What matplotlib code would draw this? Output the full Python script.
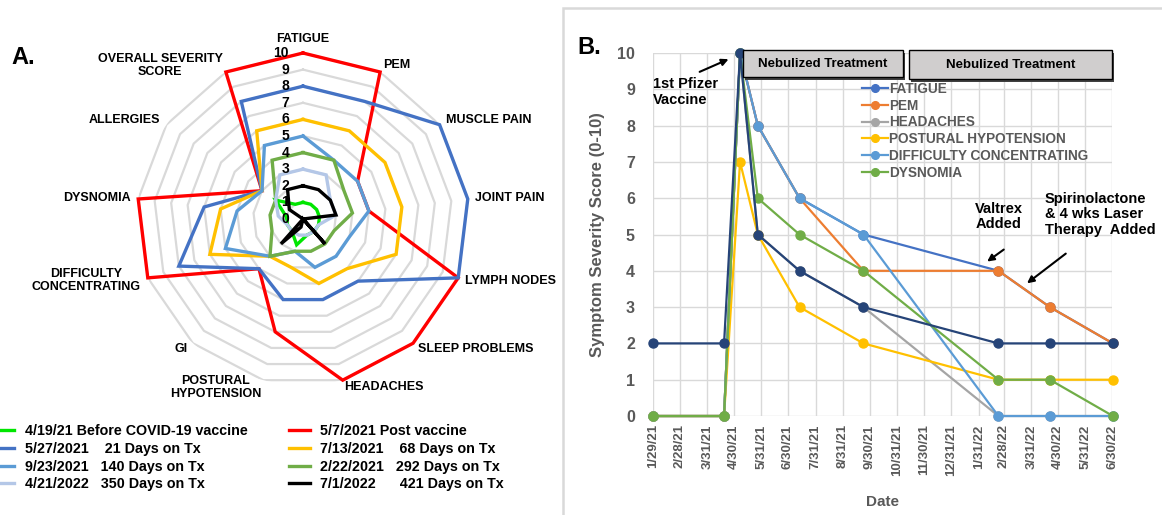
import numpy as np
import pandas as pd
import matplotlib
matplotlib.use('Agg')
import matplotlib.pyplot as plt
from matplotlib.patches import Rectangle

plt.rcParams['font.family'] = ['Liberation Sans', 'DejaVu Sans']
plt.rcParams['font.weight'] = 'bold'
plt.rcParams['axes.labelweight'] = 'bold'

# ---------------- panel A : radar data ----------------
categories = ['FATIGUE', 'PEM', 'MUSCLE PAIN', 'JOINT PAIN', 'LYMPH NODES',
              'SLEEP PROBLEMS', 'HEADACHES', 'POSTURAL\nHYPOTENSION', 'GI',
              'DIFFICULTY\nCONCENTRATING', 'DYSNOMIA', 'ALLERGIES',
              'OVERALL SEVERITY\nSCORE']
levels = [0, 1, 2, 3, 4, 5, 6, 7, 8, 9, 10]

before_vaccine = [1, 1, 1, 1, 1, 1, 1, 1.6, 1, 1, 1, 2, 1]
post_vaccine = [10, 10, 4, 4, 10, 10, 10, 7, 4, 10, 10, 3, 10]
days_21 = [8, 8, 10, 10, 10, 5, 5, 5, 4, 8, 6, 3, 8]
days_68 = [6, 6, 6, 6, 6, 4, 4, 3, 3, 6, 5, 3, 6]
days_140 = [5, 4, 4, 4, 3, 3, 3, 2, 3, 5, 4, 3, 5]
days_292 = [4, 4, 3, 3, 2, 2, 2, 2, 3, 2, 2, 2, 4]
days_350 = [3, 3, 2, 2, 1, 1, 1, 1, 1, 1, 1.5, 2, 3]
days_421 = [2, 2, 2, 2, 0, 2, 0, 0.5, 2, 0, 0, 1, 2]

radar_series = [before_vaccine, post_vaccine, days_21, days_68,
                days_140, days_292, days_350, days_421]
radar_labels = ['4/19/21 Before COVID-19 vaccine', '5/7/2021 Post vaccine',
                '5/27/2021    21 Days on Tx', '7/13/2021    68 Days on Tx',
                '9/23/2021   140 Days on Tx', '2/22/2021   292 Days on Tx',
                '4/21/2022   350 Days on Tx', '7/1/2022      421 Days on Tx']
radar_colors = ['#00E600', '#FF0000', '#4472C4', '#FFC000',
                '#5B9BD5', '#70AD47', '#B4C7E7', '#000000']

# ---------------- panel B : line data ----------------
line_dates = ['1/29/21', '4/19/21', '5/7/21', '5/27/21', '7/13/21',
              '9/23/21', '2/22/22', '4/21/22', '7/1/22']
fatigue = [0, 0, 10, 8, 6, 5, 4, 3, 2]
pem = [0, 0, 10, 8, 6, 4, 4, 3, 2]
headaches = [0, 0, 10, 5, 4, 3, 0, 0, 0]
postural = [0, 0, 7, 5, 3, 2, 1, 1, 1]
difficulty = [0, 0, 10, 8, 6, 5, 0, 0, 0]
dysnomia = [0, 0, 10, 6, 5, 4, 1, 1, 0]
unlabeled = [2, 2, 10, 5, 4, 3, 2, 2, 2]

line_series = [fatigue, pem, headaches, postural, difficulty, dysnomia, unlabeled]
line_names = ['FATIGUE', 'PEM', 'HEADACHES', 'POSTURAL HYPOTENSION',
              'DIFFICULTY CONCENTRATING', 'DYSNOMIA', '_nolegend_']
line_colors = ['#4472C4', '#ED7D31', '#A5A5A5', '#FFC000', '#5B9BD5',
               '#70AD47', '#264478']
tick_dates = ['1/29/21', '2/28/21', '3/31/21', '4/30/21', '5/31/21', '6/30/21',
              '7/31/21', '8/31/21', '9/30/21', '10/31/21', '11/30/21',
              '12/31/21', '1/31/22', '2/28/22', '3/31/22', '4/30/22',
              '5/31/22', '6/30/22']

fig = plt.figure(figsize=(11.62, 5.15), dpi=100)

# ================= radar =================
ax_r = fig.add_axes([0.1179, 0.2524, 0.2857, 0.6447], projection='polar')
ax_r.set_theta_offset(np.pi / 2)
ax_r.set_theta_direction(-1)
ax_r.set_ylim(0, 10)
ax_r.grid(False)
ax_r.spines['polar'].set_visible(False)
ax_r.set_xticks([])
ax_r.set_yticks([])
ax_r.patch.set_alpha(0)

n = len(categories)
angles = np.linspace(0, 2 * np.pi, n, endpoint=False)
closed = np.append(angles, angles[0])

for lev in levels[1:]:
    ax_r.plot(closed, [lev] * (n + 1), color='#D9D9D9', lw=1.6, zorder=1)

handles = []
for vals, lab, col in zip(radar_series, radar_labels, radar_colors):
    h, = ax_r.plot(closed, vals + vals[:1], color=col, lw=2.4, label=lab,
                   zorder=3, clip_on=False, solid_joinstyle='miter')
    handles.append(h)

for lev in levels:
    ax_r.annotate(str(lev), xy=(0, lev), xytext=(-10, 0), textcoords='offset points',
                  ha='right', va='center', fontsize=10, zorder=5)

for ang, cat in zip(angles, categories):
    s = np.sin(ang)
    if abs(s) < 0.01:
        ax_r.text(ang, 10.85, cat, ha='center', va='center', fontsize=9)
    else:
        ax_r.text(ang, 10.45, cat, ha='left' if s > 0 else 'right', va='center',
                  fontsize=9, multialignment='center', linespacing=1.05)

fig.text(0.010, 0.889, 'A.', fontsize=17, ha='left', va='center')

order = [0, 2, 4, 6, 1, 3, 5, 7]
fig.legend([handles[i] for i in order], [radar_labels[i] for i in order],
           ncol=2, loc='upper left', bbox_to_anchor=(-0.006, 0.176),
           frameon=False, prop={'size': 10.3, 'weight': 'bold'},
           handlelength=1.5, handletextpad=0.7, labelspacing=0.25,
           columnspacing=2.9, borderpad=0, borderaxespad=0)

# ================= line chart =================
fig.patches.append(Rectangle((563 / 1162, -0.02), 0.6, 1 - 8 / 515 + 0.02,
                             transform=fig.transFigure, fill=False,
                             edgecolor='#D9D9D9', lw=1.8))

ax = fig.add_axes([0.5620, 0.1922, 0.3950, 0.7049])
x = pd.to_datetime(line_dates, format='%m/%d/%y')
for vals, name, col in zip(line_series, line_names, line_colors):
    ax.plot(x, vals, color=col, lw=1.6, marker='o', ms=6.5, label=name,
            clip_on=False, zorder=3)

ticks = pd.to_datetime(tick_dates, format='%m/%d/%y')
ax.set_xticks(ticks)
ax.set_xticklabels(tick_dates, rotation=90, fontsize=9.5, color='#595959',
                   fontweight='bold')
ax.set_xlim(ticks[0], ticks[-1])
ax.set_ylim(0, 10)
ax.set_yticks(range(0, 11))
ax.set_yticklabels([str(v) for v in range(0, 11)], fontsize=11.5,
                   color='#595959', fontweight='bold')
ax.tick_params(axis='y', length=0, pad=13)
ax.tick_params(axis='x', length=0, pad=6)
ax.grid(True, color='#D9D9D9', lw=1)
ax.set_axisbelow(True)
for sp in ax.spines.values():
    sp.set_visible(False)
ax.set_ylabel('Symptom Severity Score (0-10)', fontsize=12, color='#595959',
              labelpad=9)
ax.set_xlabel('Date', fontsize=11, color='#595959', labelpad=14)

fig.text(0.497, 0.907, 'B.', fontsize=17, ha='left', va='center')

# treatment boxes
for x0, x1, y0 in [(0.196, 0.545, 0.934), (0.558, 1.0, 0.928)]:
    ax.add_patch(Rectangle((x0 + 0.005, y0 - 0.008), x1 - x0, 1.008 - y0,
                           transform=ax.transAxes, facecolor='#404040',
                           edgecolor='none', clip_on=False, zorder=5))
    ax.add_patch(Rectangle((x0, y0), x1 - x0, 1.008 - y0, transform=ax.transAxes,
                           facecolor='#D0CECE', edgecolor='black', lw=1,
                           clip_on=False, zorder=6))
    ax.text((x0 + x1) / 2, (y0 + 1.008) / 2, 'Nebulized Treatment',
            transform=ax.transAxes, ha='center', va='center', fontsize=9.5,
            zorder=7)

ax.legend(loc='upper left', bbox_to_anchor=(0.455, 0.92), frameon=False,
          prop={'size': 9.8, 'weight': 'bold'}, labelcolor='#595959',
          handlelength=1.9, handletextpad=0.1, labelspacing=0.2,
          borderpad=0, borderaxespad=0, markerscale=0.85)

arrow = dict(arrowstyle='-|>', color='black', lw=1.5, mutation_scale=10)
ax.text(0.0, 0.935, '1st Pfizer\nVaccine', transform=ax.transAxes,
        ha='left', va='top', fontsize=10.5, linespacing=1.2)
ax.annotate('', xy=(0.170, 0.986), xytext=(0.096, 0.945),
            xycoords='axes fraction', textcoords='axes fraction', arrowprops=arrow)
ax.text(0.702, 0.590, 'Valtrex\nAdded', transform=ax.transAxes, ha='left',
        va='top', fontsize=10.5, linespacing=1.1)
ax.annotate('', xy=(0.723, 0.421), xytext=(0.769, 0.463),
            xycoords='axes fraction', textcoords='axes fraction', arrowprops=arrow)
ax.text(0.854, 0.616, 'Spirinolactone\n& 4 wks Laser\nTherapy  Added',
        transform=ax.transAxes, ha='left', va='top', fontsize=10.5, linespacing=1.1)
ax.annotate('', xy=(0.810, 0.361), xytext=(0.904, 0.452),
            xycoords='axes fraction', textcoords='axes fraction', arrowprops=arrow)

fig.savefig('out.png', dpi=100)
